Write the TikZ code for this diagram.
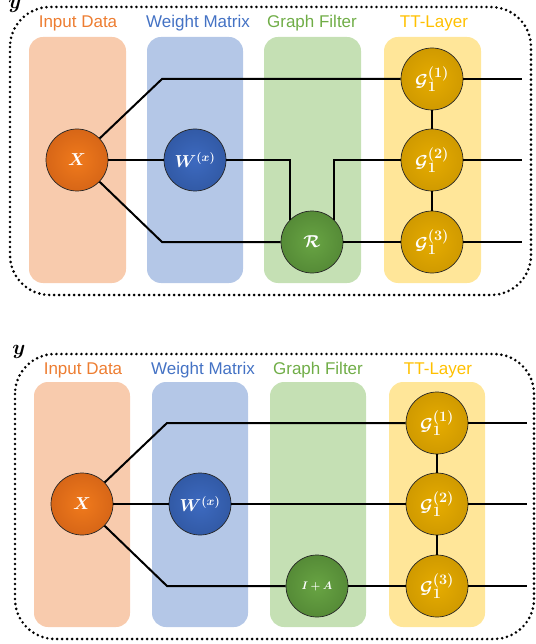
\documentclass[tikz,border=0pt]{standalone}
\usepackage{fontspec}
\usepackage{bm}
\newfontfamily\labelfont{Liberation Sans}
\DeclareMathSizes{16}{16}{12.5}{10}
\DeclareMathSizes{18}{18}{13.5}{10}
\definecolor{inbg}{HTML}{F8CBAD}
\definecolor{wbg}{HTML}{B4C7E7}
\definecolor{gbg}{HTML}{C5E0B4}
\definecolor{tbg}{HTML}{FFE699}
\definecolor{inlbl}{HTML}{ED7D31}
\definecolor{wlbl}{HTML}{4472C4}
\definecolor{glbl}{HTML}{70AD47}
\definecolor{tlbl}{HTML}{FFC000}
\definecolor{oIn}{HTML}{F07A1C}
\definecolor{oOut}{HTML}{BE5212}
\definecolor{bIn}{HTML}{3D6AC0}
\definecolor{bOut}{HTML}{274A8C}
\definecolor{gIn}{HTML}{68A443}
\definecolor{gOut}{HTML}{43722B}
\definecolor{yIn}{HTML}{E6AC00}
\definecolor{yOut}{HTML}{BA8800}
\pgfdeclareradialshading{orangeball}{\pgfpoint{0bp}{0bp}}{color(0bp)=(oIn); color(50bp)=(oOut)}
\pgfdeclareradialshading{blueball}{\pgfpoint{0bp}{0bp}}{color(0bp)=(bIn); color(50bp)=(bOut)}
\pgfdeclareradialshading{greenball}{\pgfpoint{0bp}{0bp}}{color(0bp)=(gIn); color(50bp)=(gOut)}
\pgfdeclareradialshading{goldball}{\pgfpoint{0bp}{0bp}}{color(0bp)=(yIn); color(50bp)=(yOut)}
\tikzset{
  colbox/.style={rounded corners=14pt},
  lbl/.style={font=\labelfont\fontsize{17}{20}\selectfont, anchor=base, inner sep=0pt},
  ball/.style={circle, minimum size=62pt, inner sep=0pt, draw=black!85, line width=0.7pt,
               text=white, font=\fontsize{16}{19}\selectfont},
  gball/.style={ball, shading=goldball, font=\fontsize{18}{21}\selectfont},
  wire/.style={line width=2pt, black},
  frame/.style={line width=2.9pt, dash pattern=on 0pt off 5pt, line cap=round, rounded corners=40pt},
  ylbl/.style={font=\fontsize{22}{24}\selectfont, inner sep=0pt}
}
\begin{document}
\begin{tikzpicture}[x=1pt,y=-1pt]
\useasboundingbox (0,0) rectangle (535,644);
% ---------- top panel ----------
\fill[inbg,colbox] (29,37) rectangle (126,283);
\fill[wbg,colbox] (147,37) rectangle (243,283);
\fill[gbg,colbox] (264,37) rectangle (361,283);
\fill[tbg,colbox] (384,37) rectangle (481,283);
\node[lbl,text=inlbl] (l1) at (78,28) {Input Data};
\node[lbl,text=wlbl] (l2) at (198,28) {Weight Matrix};
\node[lbl,text=glbl] (l3) at (312,28) {Graph Filter};
\node[lbl,text=tlbl] (l4) at (434,28) {TT-Layer};
\draw[frame] (10,7) rectangle (531,295);
\node[ylbl] (y1) at (15,6) {$\bm{y}$};

\node[ball,shading=orangeball] (X1) at (77,160) {$\bm{X}$};
\node[ball,shading=blueball] (W1) at (195,160) {$\bm{W^{(x)}}$};
\node[ball,shading=greenball] (R1) at (312,242) {$\bm{\mathcal{R}}$};
\node[gball] (G11) at (432,79) {$\bm{\mathcal{G}_1^{(1)}}$};
\node[gball] (G12) at (432,160) {$\bm{\mathcal{G}_1^{(2)}}$};
\node[gball] (G13) at (432,242) {$\bm{\mathcal{G}_1^{(3)}}$};
\coordinate (a1) at (162,79);
\coordinate (b1) at (162,242);
\coordinate (e11) at (522,79);
\coordinate (e12) at (522,160);
\coordinate (e13) at (522,242);
\draw[wire] (X1) -- (a1) -- (G11.west);
\draw[wire] (X1) -- (b1) -- (R1.west);
\draw[wire] (R1) -- (G13);
\draw[wire] (X1) -- (W1);
\draw[wire] (W1.east) -| (R1.135);
\draw[wire] (R1.45) |- (G12.west);
\draw[wire] (G11) -- (G12);
\draw[wire] (G12) -- (G13);
\draw[wire] (G11.east) -- (e11);
\draw[wire] (G12.east) -- (e12);
\draw[wire] (G13.east) -- (e13);
% ---------- bottom panel ----------
\fill[inbg,colbox] (34,382) rectangle (130,627);
\fill[wbg,colbox] (152,382) rectangle (248,627);
\fill[gbg,colbox] (270,382) rectangle (366,627);
\fill[tbg,colbox] (389,382) rectangle (485,627);
\node[lbl,text=inlbl] (m1) at (83,374) {Input Data};
\node[lbl,text=wlbl] (m2) at (203,374) {Weight Matrix};
\node[lbl,text=glbl] (m3) at (318,374) {Graph Filter};
\node[lbl,text=tlbl] (m4) at (438,374) {TT-Layer};
\draw[frame] (15,354) rectangle (534,639);
\node[ylbl] (y2) at (19,352) {$\bm{y}$};

\node[ball,shading=orangeball] (X2) at (82,504) {$\bm{X}$};
\node[ball,shading=blueball] (W2) at (200,504) {$\bm{W^{(x)}}$};
\node[ball,shading=greenball,font=\fontsize{11}{13}\selectfont] (IA) at (317,586) {$\bm{I+A}$};
\node[gball] (G21) at (437,423) {$\bm{\mathcal{G}_1^{(1)}}$};
\node[gball] (G22) at (437,504) {$\bm{\mathcal{G}_1^{(2)}}$};
\node[gball] (G23) at (437,586) {$\bm{\mathcal{G}_1^{(3)}}$};
\coordinate (a2) at (167,423);
\coordinate (b2) at (167,586);
\coordinate (e21) at (527,423);
\coordinate (e22) at (527,504);
\coordinate (e23) at (527,586);
\draw[wire] (X2) -- (a2) -- (G21.west);
\draw[wire] (X2) -- (b2) -- (IA.west);
\draw[wire] (IA) -- (G23);
\draw[wire] (X2) -- (W2);
\draw[wire] (W2) -- (G22);
\draw[wire] (G21) -- (G22);
\draw[wire] (G22) -- (G23);
\draw[wire] (G21.east) -- (e21);
\draw[wire] (G22.east) -- (e22);
\draw[wire] (G23.east) -- (e23);
\end{tikzpicture}
\end{document}
